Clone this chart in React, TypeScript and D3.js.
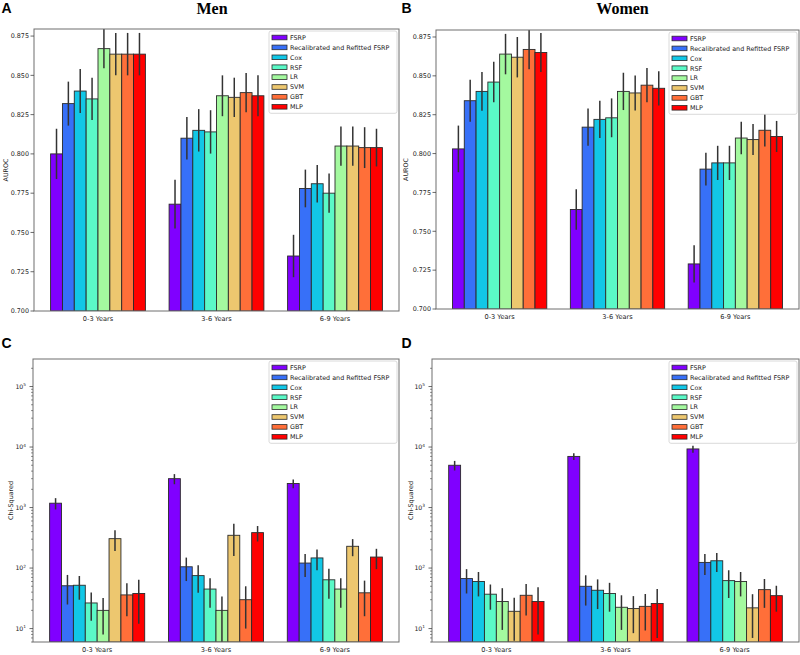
import React from 'react';
import * as d3 from 'd3';

const categories = ['0-3 Years', '3-6 Years', '6-9 Years'];
const models = ['FSRP', 'Recalibrated and Refitted FSRP', 'Cox', 'RSF', 'LR', 'SVM', 'GBT', 'MLP'];
const modelColors = ['#8000ff', '#3770f8', '#12c7e6', '#5bf9c7', '#a4f99f', '#edc76f', '#ff6f39', '#ff0000'];

// AUROC, Men (rows: models, columns: categories)
const menAuroc = [
  [0.800, 0.768, 0.735],
  [0.832, 0.810, 0.778],
  [0.840, 0.815, 0.781],
  [0.835, 0.814, 0.775],
  [0.867, 0.837, 0.805],
  [0.8635, 0.836, 0.805],
  [0.8635, 0.839, 0.804],
  [0.8635, 0.837, 0.804],
];
const menAurocErr = [
  [0.016, 0.0155, 0.0135],
  [0.014, 0.0135, 0.012],
  [0.014, 0.0135, 0.012],
  [0.0135, 0.0138, 0.0125],
  [0.0125, 0.013, 0.0125],
  [0.0135, 0.0125, 0.0125],
  [0.0135, 0.0125, 0.013],
  [0.0135, 0.013, 0.012],
];

// AUROC, Women
const womenAuroc = [
  [0.803, 0.764, 0.729],
  [0.834, 0.817, 0.790],
  [0.840, 0.822, 0.794],
  [0.846, 0.823, 0.794],
  [0.864, 0.840, 0.810],
  [0.862, 0.839, 0.809],
  [0.867, 0.844, 0.815],
  [0.865, 0.842, 0.811],
];
const womenAurocErr = [
  [0.015, 0.013, 0.012],
  [0.0135, 0.012, 0.0105],
  [0.0125, 0.012, 0.011],
  [0.013, 0.0125, 0.011],
  [0.013, 0.012, 0.0105],
  [0.013, 0.0113, 0.010],
  [0.0128, 0.011, 0.0105],
  [0.0125, 0.011, 0.010],
];

// Chi-squared, Men
const menChi = [
  [1180, 3000, 2500],
  [51, 105, 121],
  [52, 75, 147],
  [26.5, 45, 64],
  [20, 20, 45],
  [306, 348, 229],
  [36, 30, 39],
  [38, 385, 152],
];
const menChiErr = [
  [250, 570, 410],
  [26, 44, 50],
  [22, 36, 55],
  [13, 23, 33],
  [12, 14, 23],
  [115, 190, 72],
  [20, 20, 23],
  [26, 110, 56],
];

// Chi-squared, Women
const womenChi = [
  [5000, 7000, 9300],
  [67, 50, 124],
  [60, 43, 132],
  [37, 38, 62],
  [28, 22.5, 60],
  [19.3, 21.4, 22],
  [35.5, 23.3, 44],
  [28, 26, 35],
];
const womenChiErr = [
  [900, 870, 1250],
  [29, 26, 47],
  [26, 22, 46],
  [16.5, 19, 30],
  [18.5, 13, 26],
  [13, 13, 15],
  [19, 14, 22],
  [20, 19, 16],
];

const aurocTicks = [0.7, 0.725, 0.75, 0.775, 0.8, 0.825, 0.85, 0.875];
const chiExponents = [1, 2, 3, 4, 5];

const FONT = 'DejaVu Sans, sans-serif';

type PanelProps = {
  id: string;
  x0: number; x1: number; y0: number; y1: number;
  values: number[][];
  errs: number[][];
  log: boolean;
  ylabel: string;
  ylabelX: number;
  xlabelY: number;
};

function Panel(p: PanelProps) {
  const { x0, x1, y0, y1, values, errs, log } = p;
  const xGroup = d3.scaleBand<string>().domain(categories).range([x0, x1]).paddingInner(0.2).paddingOuter(0.14);
  const xInner = d3.scaleBand<string>().domain(models).range([0, xGroup.bandwidth()]).padding(0);
  const y: any = log
    ? d3.scaleLog().domain([6.0, 2.85e5]).range([y1, y0])
    : d3.scaleLinear().domain([0.7, 0.8795]).range([y1, y0]);
  const base = log ? 6.0 : 0.7;

  const minorTicks: number[] = [];
  if (log) {
    for (let e = 0; e <= 5; e++) {
      for (let m = 2; m <= 9; m++) {
        const v = m * Math.pow(10, e);
        if (v >= 6 && v <= 2.85e5) minorTicks.push(v);
      }
    }
  }

  const legendLeft = x1 - 130;
  const legendTop = y0 + 2;
  const rowH = 9.9;

  return (
    <g>
      <defs>
        <clipPath id={`clip-${p.id}`}>
          <rect x={x0} y={y0} width={x1 - x0} height={y1 - y0} />
        </clipPath>
      </defs>
      <rect x={x0} y={y0} width={x1 - x0} height={y1 - y0} fill="#fff" />
      <g clipPath={`url(#clip-${p.id})`}>
        {models.map((m, mi) =>
          categories.map((c, ci) => {
            const v = values[mi][ci];
            const bx = (xGroup(c) as number) + (xInner(m) as number);
            const bw = xInner.bandwidth();
            const top = y(v);
            return (
              <rect key={`${m}-${c}`} x={bx} y={top} width={bw} height={y(base) - top}
                fill={modelColors[mi]} stroke="#2a2a2a" strokeWidth={0.9} />
            );
          })
        )}
        {models.map((m, mi) =>
          categories.map((c, ci) => {
            const v = values[mi][ci];
            const e = errs[mi][ci];
            const cx = (xGroup(c) as number) + (xInner(m) as number) + xInner.bandwidth() / 2;
            const lo = Math.max(v - e, base * 0.5);
            return (
              <line key={`e-${m}-${c}`} x1={cx} x2={cx} y1={y(lo)} y2={y(v + e)}
                stroke="#333" strokeWidth={1.5} />
            );
          })
        )}
      </g>
      {/* frame */}
      <rect x={x0} y={y0} width={x1 - x0} height={y1 - y0} fill="none" stroke="#6e6e6e" strokeWidth={1} />
      {/* y ticks */}
      {!log && aurocTicks.map((t) => (
        <g key={t}>
          <line x1={x0 - 3.5} x2={x0} y1={y(t)} y2={y(t)} stroke="#444" strokeWidth={0.8} />
          <text x={x0 - 5} y={y(t) + 2.3} textAnchor="end" fontSize={6.4} fontFamily={FONT} fill="#222">
            {d3.format('.3f')(t)}
          </text>
        </g>
      ))}
      {log && minorTicks.map((t) => (
        <line key={`m${t}`} x1={x0 - 2} x2={x0} y1={y(t)} y2={y(t)} stroke="#444" strokeWidth={0.6} />
      ))}
      {log && chiExponents.map((e) => {
        const t = Math.pow(10, e);
        return (
          <g key={e}>
            <line x1={x0 - 3.5} x2={x0} y1={y(t)} y2={y(t)} stroke="#444" strokeWidth={0.8} />
            <text x={x0 - 7} y={y(t) + 2.3} textAnchor="end" fontSize={6.2} fontFamily={FONT} fill="#222">
              10<tspan fontSize={4.3} dy={-2.6}>{e}</tspan>
            </text>
          </g>
        );
      })}
      {/* x labels */}
      {categories.map((c) => (
        <text key={c} x={(xGroup(c) as number) + xGroup.bandwidth() / 2} y={p.xlabelY} textAnchor="middle"
          fontSize={6.6} fontFamily={FONT} fill="#222">{c}</text>
      ))}
      {/* y label */}
      <text transform={`translate(${p.ylabelX},${(y0 + y1) / 2}) rotate(-90)`} textAnchor="middle"
        fontSize={6.4} fontFamily={FONT} fill="#222">{p.ylabel}</text>
      {/* legend */}
      <rect x={legendLeft} y={legendTop} width={128} height={rowH * 7 + 13} rx={2} fill="#fff" fillOpacity={0.85}
        stroke="#d0d0d0" strokeWidth={0.8} />
      {models.map((m, mi) => {
        const ry = legendTop + 6.5 + mi * rowH;
        return (
          <g key={m}>
            <rect x={legendLeft + 3} y={ry - 2.3} width={15} height={4.6} fill={modelColors[mi]} stroke="#2a2a2a" strokeWidth={0.8} />
            <text x={legendLeft + 21} y={ry + 2.3} fontSize={6.4} fontFamily={FONT} fill="#222">{m}</text>
          </g>
        );
      })}
    </g>
  );
}

export default function App() {
  return (
    <svg width={800} height={655} style={{ position: 'absolute', left: 0, top: 0, background: '#fff' }}>
      <rect x={0} y={0} width={800} height={655} fill="#fff" />
      <text x={1.5} y={13.3} fontSize={14} fontWeight="bold" fontFamily="Liberation Sans, Arial, sans-serif">A</text>
      <text x={401.5} y={13.3} fontSize={14} fontWeight="bold" fontFamily="Liberation Sans, Arial, sans-serif">B</text>
      <text x={1.5} y={348.3} fontSize={14} fontWeight="bold" fontFamily="Liberation Sans, Arial, sans-serif">C</text>
      <text x={401.5} y={348.3} fontSize={14} fontWeight="bold" fontFamily="Liberation Sans, Arial, sans-serif">D</text>
      <text x={212} y={13.5} textAnchor="middle" fontSize={16} fontWeight="bold" fontFamily="Liberation Serif, Times New Roman, serif">Men</text>
      <text x={622.5} y={13.5} textAnchor="middle" fontSize={16} fontWeight="bold" fontFamily="Liberation Serif, Times New Roman, serif">Women</text>
      <Panel id="a" x0={34} x1={399} y0={29} y1={311} values={menAuroc} errs={menAurocErr} log={false}
        ylabel="AUROC" ylabelX={7.5} xlabelY={320.5} />
      <Panel id="b" x0={436} x1={799} y0={30} y1={309} values={womenAuroc} errs={womenAurocErr} log={false}
        ylabel="AUROC" ylabelX={407.5} xlabelY={319} />
      <Panel id="c" x0={33} x1={399} y0={359} y1={642} values={menChi} errs={menChiErr} log={true}
        ylabel="Chi-Squared" ylabelX={13} xlabelY={652} />
      <Panel id="d" x0={432} x1={799} y0={359} y1={642} values={womenChi} errs={womenChiErr} log={true}
        ylabel="Chi-Squared" ylabelX={413} xlabelY={652} />
    </svg>
  );
}
